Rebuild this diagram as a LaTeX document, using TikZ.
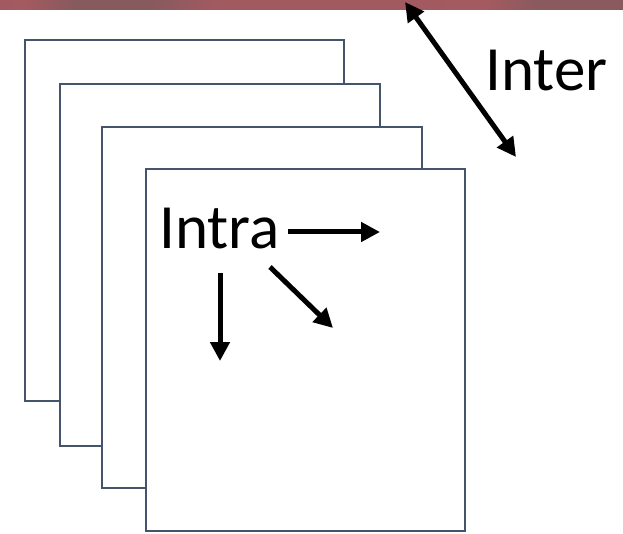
\documentclass[tikz,border=0pt]{standalone}
\usepackage{fontspec}
\setmainfont{Carlito}
\usetikzlibrary{arrows.meta}

\definecolor{sheetline}{HTML}{44546A}
\definecolor{barA}{HTML}{9B5B62}
\definecolor{barB}{HTML}{B05C62}
\definecolor{barC}{HTML}{A45A60}
\definecolor{barD}{HTML}{875A5E}
\definecolor{barE}{HTML}{A05A60}
\definecolor{barF}{HTML}{8A5A5E}
\definecolor{barG}{HTML}{B55A62}

\pgfdeclarehorizontalshading{titlebar}{100bp}{%
  color(0bp)=(barA); color(11bp)=(barA); color(15bp)=(barB);
  color(20bp)=(barA); color(27bp)=(barC); color(31bp)=(barD);
  color(37bp)=(barD); color(42bp)=(barE); color(55bp)=(barE);
  color(64bp)=(barC); color(68bp)=(barF); color(78bp)=(barF);
  color(81bp)=(barB); color(84bp)=(barG); color(87bp)=(barE);
  color(90bp)=(barF); color(100bp)=(barF)}

\tikzset{
  sheet/.style={draw=sheetline, line width=1.6pt, fill=white},
  flow/.style={line width=5pt, -{Triangle[length=19pt,width=19pt]}},
  twoway/.style={line width=5pt, {Triangle[length=19pt,width=19pt]}-{Triangle[length=19pt,width=19pt]}},
  label/.style={inner sep=0pt, font=\fontsize{63}{70}\selectfont}
}

\begin{document}
\begin{tikzpicture}[x=1pt, y=-1pt]
  \useasboundingbox (0,0) rectangle (623,534);

  % banner strip along the top edge
  \shade[shading=titlebar] (0,0) rectangle (623,10);

  % stacked sheets, back to front
  \draw[sheet] (25,40) rectangle (344,401);
  \draw[sheet] (60,84) rectangle (380,446);
  \draw[sheet] (102,127) rectangle (422,488);
  \draw[sheet] (146,169) rectangle (465,531);

  % labels
  \node[label, anchor=base west] (intra) at (159,249) {Intra};
  \node[label, anchor=base west] (inter) at (485,91) {Inter};

  % arrow ends
  \coordinate (rightS) at (288,232);
  \coordinate (rightE) at (380,232);
  \coordinate (diagS) at (270,267);
  \coordinate (diagE) at (333,328);
  \coordinate (downS) at (220,273);
  \coordinate (downE) at (220,361);
  \coordinate (interA) at (405,2);
  \coordinate (interB) at (516,157);

  \draw[flow] (rightS) -- (rightE);
  \draw[flow] (diagS) -- (diagE);
  \draw[flow] (downS) -- (downE);
  \draw[twoway] (interA) -- (interB);
\end{tikzpicture}
\end{document}
